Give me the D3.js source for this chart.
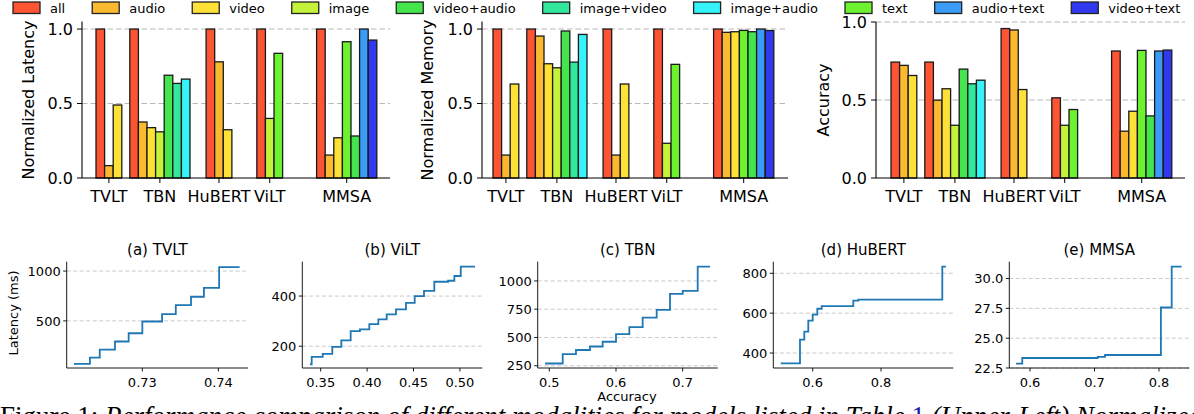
<!DOCTYPE html>
<html>
<head>
<meta charset="UTF-8" />
<script src="https://d3js.org/d3.v7.min.js"></script>
<style>
  body { margin: 0; background: white; }
  text { font-family: "DejaVu Sans", sans-serif; fill: #000; }
</style>
</head>
<body>
<svg id="chart" width="1194" height="414"></svg>
<script>
// ---- data ----
const models = ["TVLT", "TBN", "HuBERT", "ViLT", "MMSA"];
const modalities = ["all", "audio", "video", "image", "video+audio", "image+video", "image+audio", "text", "audio+text", "video+text"];
const modalityColors = ["#fd5534", "#fbb92f", "#fde136", "#c5f23a", "#44e54d", "#32e89c", "#35f3f8", "#6cf22f", "#3a9cf6", "#3039ee"];

// bar order per model
const tvltMods = ["all", "audio", "video"];
const tbnMods = ["all", "audio", "video", "image", "video+audio", "image+video", "image+audio"];
const hubertMods = ["all", "audio", "video"];
const viltMods = ["all", "image", "text"];
const mmsaMods = ["all", "audio", "video", "text", "video+audio", "audio+text", "video+text"];
const modelMods = [tvltMods, tbnMods, hubertMods, viltMods, mmsaMods];

const latency = [[1.0, 0.083, 0.49], [1.0, 0.376, 0.338, 0.31, 0.69, 0.635, 0.664], [1.0, 0.78, 0.324], [1.0, 0.40, 0.837], [1.0, 0.154, 0.27, 0.915, 0.282, 1.0, 0.926]];
const memory = [[1.0, 0.154, 0.631], [1.0, 0.953, 0.767, 0.74, 0.987, 0.778, 0.964], [1.0, 0.154, 0.631], [1.0, 0.233, 0.763], [1.0, 0.978, 0.982, 0.991, 0.982, 1.0, 0.99]];
const accuracy = [[0.743, 0.722, 0.657], [0.743, 0.499, 0.572, 0.338, 0.698, 0.604, 0.627], [0.958, 0.949, 0.567], [0.514, 0.338, 0.439], [0.814, 0.30, 0.428, 0.818, 0.398, 0.814, 0.82]];

// latency vs accuracy trade-off curves (step plots)
const tvltAcc = [0.7210, 0.7231, 0.7244, 0.7264, 0.7282, 0.7300, 0.7326, 0.7344, 0.7364, 0.7381, 0.7401, 0.7428];
const tvltLat = [68, 132, 212, 293, 376, 494, 567, 658, 742, 832, 1040, 1040];
const viltAcc = [0.3385, 0.3403, 0.3522, 0.3625, 0.3722, 0.3823, 0.3923, 0.4024, 0.4121, 0.4211, 0.4311, 0.4419, 0.4513, 0.4613, 0.4724, 0.4872, 0.4940, 0.5009, 0.5163];
const viltLat = [128, 157, 169, 197, 223, 260, 267, 288, 307, 327, 347, 373, 400, 421, 457, 461, 480, 517, 517];
const tbnAcc = [0.4936, 0.5201, 0.540, 0.561, 0.580, 0.600, 0.620, 0.640, 0.661, 0.681, 0.700, 0.7225, 0.741];
const tbnLat = [270, 353, 389, 420, 462, 530, 591, 676, 744, 885, 912, 1126, 1126];
const hubertAcc = [0.5064, 0.5628, 0.5754, 0.5871, 0.600, 0.6135, 0.6263, 0.7188, 0.7335, 0.9793, 0.990];
const hubertLat = [348, 467, 507, 563, 593, 622, 635, 663, 668, 833, 833];
const mmsaAcc = [0.5783, 0.588, 0.705, 0.7163, 0.803, 0.8197, 0.835];
const mmsaLat = [22.86, 23.34, 23.44, 23.59, 27.57, 31.0, 31.0];

const barTicks = [0, 0.5, 1.0];

// ---- layout ----
let svg = d3.select("svg#chart");
svg.append("rect").attr("width", 1194).attr("height", 414).attr("fill", "white");

const groupStart = [0, 3.93, 12.8, 18.7, 25.65];   // in bar widths
const gridColor = "#b8b8b8";

// legend
let lx = 13;
modalities.forEach((m, i) => {
    svg.append("rect")
        .attr("x", lx).attr("y", 2).attr("width", 27).attr("height", 11.5)
        .attr("fill", modalityColors[i]).attr("stroke", "#222").attr("stroke-width", 1.3);
    let t = svg.append("text")
        .attr("x", lx + 37).attr("y", 12.5)
        .attr("font-size", "13px")
        .text(m);
    lx += 37 + t.node().getComputedTextLength() + 27;
});

const barPanels = [
    {label: "Normalized Latency", values: latency, L: 82, R: 390, bx0: 96, yMax: 1.05, top: 21.6, labelX: 28},
    {label: "Normalized Memory", values: memory, L: 482, R: 788, bx0: 493, yMax: 1.05, top: 21.6, labelX: 427},
    {label: "Accuracy", values: accuracy, L: 876, R: 1185, bx0: 891, yMax: 1.0, top: 22, labelX: 823}
];
const barBottom = 178;

barPanels.forEach((p) => {
    const x = d3.scaleLinear().domain([0, 32.65]).range([p.bx0, p.bx0 + 280.8]);
    const y = d3.scaleLinear().domain([0, p.yMax]).range([barBottom, p.top]);
    let g = svg.append("g");

    // grid
    barTicks.filter(t => t > 0).forEach((t) => {
        g.append("line")
            .attr("x1", p.L).attr("x2", p.R)
            .attr("y1", y(t)).attr("y2", y(t))
            .attr("stroke", gridColor).attr("stroke-width", 1.1)
            .attr("stroke-dasharray", "5.5,3");
    });

    // bars
    models.forEach((mdl, gi) => {
        modelMods[gi].forEach((mod, bi) => {
            const v = p.values[gi][bi];
            const xs = groupStart[gi] + bi;
            g.append("rect")
                .attr("x", x(xs)).attr("width", x(xs + 1) - x(xs))
                .attr("y", y(v)).attr("height", y(0) - y(v))
                .attr("fill", modalityColors[modalities.indexOf(mod)])
                .attr("stroke", "#1a1a1a").attr("stroke-width", 1.3);
        });
        const cx = x(groupStart[gi] + modelMods[gi].length / 2);
        g.append("line")
            .attr("x1", cx).attr("x2", cx).attr("y1", barBottom).attr("y2", barBottom + 5)
            .attr("stroke", "#000").attr("stroke-width", 1);
        g.append("text")
            .attr("x", cx).attr("y", barBottom + 24)
            .attr("text-anchor", "middle").attr("font-size", "16px")
            .text(mdl);
    });

    // spines
    g.append("line").attr("x1", p.L).attr("x2", p.L).attr("y1", p.top).attr("y2", barBottom)
        .attr("stroke", "#000").attr("stroke-width", 1.1);
    g.append("line").attr("x1", p.L).attr("x2", p.R).attr("y1", barBottom).attr("y2", barBottom)
        .attr("stroke", "#000").attr("stroke-width", 1.1);

    barTicks.forEach((t) => {
        g.append("line").attr("x1", p.L - 5).attr("x2", p.L).attr("y1", y(t)).attr("y2", y(t))
            .attr("stroke", "#000").attr("stroke-width", 1);
        g.append("text")
            .attr("x", p.L - 9).attr("y", y(t)).attr("dy", "0.36em")
            .attr("text-anchor", "end").attr("font-size", "16px")
            .text(d3.format(".1f")(t));
    });

    g.append("text")
        .attr("transform", `translate(${p.labelX},100) rotate(-90)`)
        .attr("text-anchor", "middle").attr("dominant-baseline", "central")
        .attr("font-size", "16px")
        .text(p.label);
});

// ---- bottom row: step curves ----
const linePanels = [
    {title: "(a) TVLT", acc: tvltAcc, lat: tvltLat, L: 66.7, R: 248, xd: [0.72005, 0.7439], yd: [27, 1094],
        xt: [0.73, 0.74], xf: ".2f", yt: [500, 1000], yf: "d"},
    {title: "(b) ViLT", acc: viltAcc, lat: viltLat, L: 302.3, R: 482.3, xd: [0.3302, 0.5241], yd: [113, 537],
        xt: [0.35, 0.40, 0.45, 0.50], xf: ".2f", yt: [200, 400], yf: "d"},
    {title: "(c) TBN", acc: tbnAcc, lat: tbnLat, L: 537.7, R: 717.7, xd: [0.4826, 0.7525], yd: [230, 1170],
        xt: [0.5, 0.6, 0.7], xf: ".1f", yt: [250, 500, 750, 1000], yf: "d"},
    {title: "(d) HuBERT", acc: hubertAcc, lat: hubertLat, L: 773.3, R: 953.3, xd: [0.4847, 1.0115], yd: [325, 858],
        xt: [0.6, 0.8], xf: ".1f", yt: [400, 600, 800], yf: "d"},
    {title: "(e) MMSA", acc: mmsaAcc, lat: mmsaLat, L: 1009.3, R: 1189.3, xd: [0.5679, 0.847], yd: [22.5, 31.41],
        xt: [0.6, 0.7, 0.8], xf: ".1f", yt: [22.5, 25.0, 27.5, 30.0], yf: ".1f"}
];
const lTop = 261.7, lBottom = 368;

linePanels.forEach((p) => {
    const x = d3.scaleLinear().domain(p.xd).range([p.L, p.R]);
    const y = d3.scaleLinear().domain(p.yd).range([lBottom, lTop]);
    let g = svg.append("g");

    p.yt.forEach((t) => {
        g.append("line").attr("x1", p.L).attr("x2", p.R).attr("y1", y(t)).attr("y2", y(t))
            .attr("stroke", "#c4c4c4").attr("stroke-width", 0.9).attr("stroke-dasharray", "4,2.5");
        g.append("line").attr("x1", p.L - 3.5).attr("x2", p.L).attr("y1", y(t)).attr("y2", y(t))
            .attr("stroke", "#000").attr("stroke-width", 0.9);
        g.append("text")
            .attr("x", p.L - 6).attr("y", y(t)).attr("dy", "0.36em")
            .attr("text-anchor", "end").attr("font-size", "13px")
            .text(d3.format(p.yf)(t));
    });

    p.xt.forEach((t) => {
        g.append("line").attr("x1", x(t)).attr("x2", x(t)).attr("y1", lBottom).attr("y2", lBottom + 3.5)
            .attr("stroke", "#000").attr("stroke-width", 0.9);
        g.append("text")
            .attr("x", x(t)).attr("y", lBottom + 19)
            .attr("text-anchor", "middle").attr("font-size", "13px")
            .text(d3.format(p.xf)(t));
    });

    const pts = p.acc.map((a, i) => [a, p.lat[i]]);
    g.append("path")
        .attr("d", d3.line().x(d => x(d[0])).y(d => y(d[1])).curve(d3.curveStepAfter)(pts))
        .attr("fill", "none").attr("stroke", "#1f77b4").attr("stroke-width", 1.8);

    g.append("line").attr("x1", p.L).attr("x2", p.L).attr("y1", lTop).attr("y2", lBottom)
        .attr("stroke", "#000").attr("stroke-width", 0.9);
    g.append("line").attr("x1", p.L).attr("x2", p.R).attr("y1", lBottom).attr("y2", lBottom)
        .attr("stroke", "#000").attr("stroke-width", 0.9);

    g.append("text")
        .attr("x", (p.L + p.R) / 2).attr("y", 255)
        .attr("text-anchor", "middle").attr("font-size", "15px")
        .text(p.title);
});

svg.append("text")
    .attr("transform", "translate(13,313) rotate(-90)")
    .attr("text-anchor", "middle").attr("dominant-baseline", "central")
    .attr("font-size", "13px")
    .text("Latency (ms)");

svg.append("text")
    .attr("x", 627).attr("y", 401)
    .attr("text-anchor", "middle").attr("font-size", "13px")
    .text("Accuracy");

// caption of the figure (cut at the bottom edge)
let cap = svg.append("text")
    .attr("x", 0).attr("y", 425)
    .style("font-family", "'Liberation Serif', serif")
    .attr("font-size", "27px");
cap.append("tspan").text("Figure 1: ");
cap.append("tspan").attr("font-style", "italic").text("Performance comparison of different modalities for models listed in Table ");
cap.append("tspan").style("fill", "#1a1aa6").text("1");
cap.append("tspan").attr("font-style", "italic").text(" (Upper-Left) Normalized latency");
</script>
</body>
</html>
